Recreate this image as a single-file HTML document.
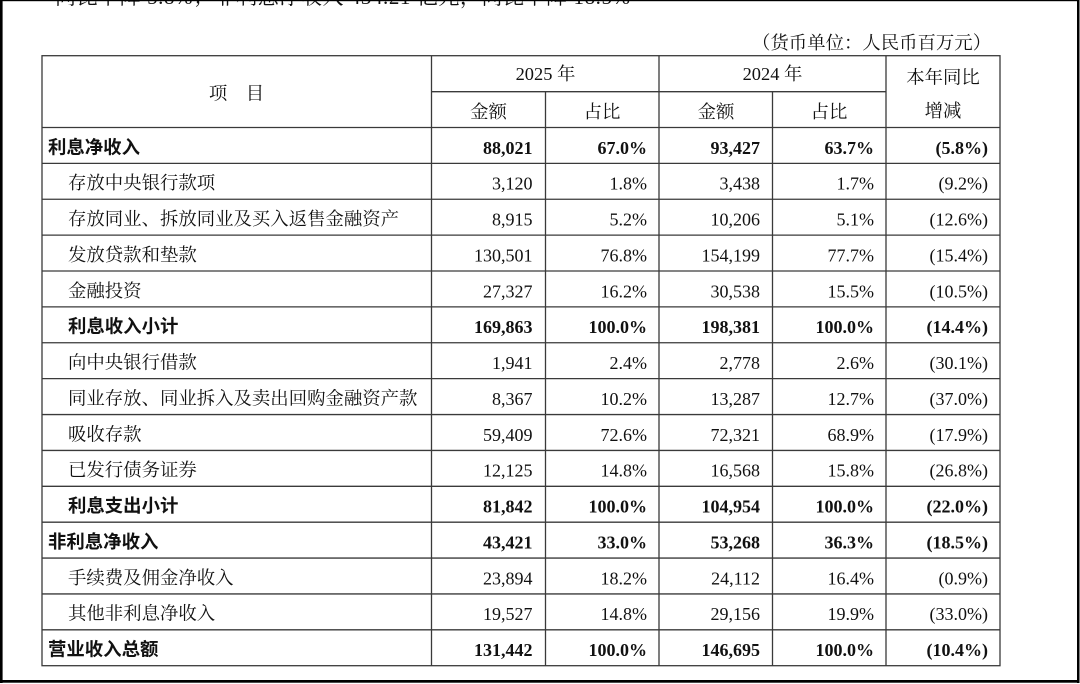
<!DOCTYPE html>
<html>
<head>
<meta charset="utf-8">
<style>
html,body{margin:0;padding:0;background:#fff;}
svg{display:block;}
.cn{font-family:"Liberation Serif","Noto Serif CJK SC",serif;font-size:18.4px;fill:#111;}
.cb{font-family:"Liberation Sans","Noto Sans CJK SC",sans-serif;font-size:18.4px;font-weight:700;fill:#111;}
.n{font-family:"Liberation Serif","Noto Serif CJK SC",serif;font-size:18px;fill:#111;text-anchor:end;}
.nb{font-family:"Liberation Serif","Noto Serif CJK SC",serif;font-size:18px;font-weight:700;fill:#111;text-anchor:end;}
.hc{font-family:"Liberation Serif","Noto Serif CJK SC",serif;font-size:18.4px;fill:#111;text-anchor:middle;}
</style>
</head>
<body>
<svg width="1080" height="684" viewBox="0 0 1080 684" xmlns="http://www.w3.org/2000/svg">
<rect x="0" y="0" width="1080" height="684" fill="#fff"/>
<!-- clipped top text -->
<text x="55" y="4" class="cn" style="font-size:21px" textLength="575" lengthAdjust="spacing">同比下降 5.8%；非利息净收入 434.21 亿元，同比下降 18.5%</text>
<!-- outer frame -->
<rect x="0" y="0" width="2.6" height="683" fill="#000"/>
<rect x="0" y="0" width="1079.5" height="1.2" fill="#000"/>
<rect x="1077" y="0" width="2.5" height="683" fill="#000"/>
<rect x="0" y="680" width="1079.5" height="2.7" fill="#000"/>

<!-- unit note -->
<text x="752" y="49" class="cn">（货币单位：人民币百万元）</text>

<!-- table lines -->
<g stroke="#3a3a3a" stroke-width="1.3" fill="none">
<rect x="42" y="55.7" width="958" height="610"/>
<line x1="431.5" y1="55.7" x2="431.5" y2="665.7"/>
<line x1="659" y1="55.7" x2="659" y2="665.7"/>
<line x1="886" y1="55.7" x2="886" y2="665.7"/>
<line x1="545.5" y1="91.7" x2="545.5" y2="665.7"/>
<line x1="772.5" y1="91.7" x2="772.5" y2="665.7"/>
<line x1="431.5" y1="91.7" x2="886" y2="91.7"/>
<line x1="42" y1="127.5" x2="1000" y2="127.5"/>
<line x1="42" y1="163.38" x2="1000" y2="163.38"/>
<line x1="42" y1="199.26" x2="1000" y2="199.26"/>
<line x1="42" y1="235.14" x2="1000" y2="235.14"/>
<line x1="42" y1="271.02" x2="1000" y2="271.02"/>
<line x1="42" y1="306.9" x2="1000" y2="306.9"/>
<line x1="42" y1="342.78" x2="1000" y2="342.78"/>
<line x1="42" y1="378.66" x2="1000" y2="378.66"/>
<line x1="42" y1="414.54" x2="1000" y2="414.54"/>
<line x1="42" y1="450.42" x2="1000" y2="450.42"/>
<line x1="42" y1="486.3" x2="1000" y2="486.3"/>
<line x1="42" y1="522.18" x2="1000" y2="522.18"/>
<line x1="42" y1="558.06" x2="1000" y2="558.06"/>
<line x1="42" y1="593.94" x2="1000" y2="593.94"/>
<line x1="42" y1="629.82" x2="1000" y2="629.82"/>
</g>

<!-- header -->
<text x="236.5" y="99.5" class="hc">项　目</text>
<text x="545.5" y="80" class="hc">2025 年</text>
<text x="772.5" y="80" class="hc">2024 年</text>
<text x="943" y="83.5" class="hc">本年同比</text>
<text x="943" y="117" class="hc">增减</text>
<text x="488.5" y="118" class="hc">金额</text>
<text x="602" y="118" class="hc">占比</text>
<text x="716" y="118" class="hc">金额</text>
<text x="829" y="118" class="hc">占比</text>

<g transform="translate(0,127.5)">
<text x="48" y="25.8" class="cb">利息净收入</text>
<text x="532.5" y="26.3" class="nb">88,021</text>
<text x="647" y="26.3" class="nb">67.0%</text>
<text x="760" y="26.3" class="nb">93,427</text>
<text x="874" y="26.3" class="nb">63.7%</text>
<text x="988" y="26.3" class="nb">(5.8%)</text>
</g>
<g transform="translate(0,163.38)">
<text x="68" y="25.8" class="cn">存放中央银行款项</text>
<text x="532.5" y="26.3" class="n">3,120</text>
<text x="647" y="26.3" class="n">1.8%</text>
<text x="760" y="26.3" class="n">3,438</text>
<text x="874" y="26.3" class="n">1.7%</text>
<text x="988" y="26.3" class="n">(9.2%)</text>
</g>
<g transform="translate(0,199.26)">
<text x="68" y="25.8" class="cn">存放同业、拆放同业及买入返售金融资产</text>
<text x="532.5" y="26.3" class="n">8,915</text>
<text x="647" y="26.3" class="n">5.2%</text>
<text x="760" y="26.3" class="n">10,206</text>
<text x="874" y="26.3" class="n">5.1%</text>
<text x="988" y="26.3" class="n">(12.6%)</text>
</g>
<g transform="translate(0,235.14)">
<text x="68" y="25.8" class="cn">发放贷款和垫款</text>
<text x="532.5" y="26.3" class="n">130,501</text>
<text x="647" y="26.3" class="n">76.8%</text>
<text x="760" y="26.3" class="n">154,199</text>
<text x="874" y="26.3" class="n">77.7%</text>
<text x="988" y="26.3" class="n">(15.4%)</text>
</g>
<g transform="translate(0,271.02)">
<text x="68" y="25.8" class="cn">金融投资</text>
<text x="532.5" y="26.3" class="n">27,327</text>
<text x="647" y="26.3" class="n">16.2%</text>
<text x="760" y="26.3" class="n">30,538</text>
<text x="874" y="26.3" class="n">15.5%</text>
<text x="988" y="26.3" class="n">(10.5%)</text>
</g>
<g transform="translate(0,306.9)">
<text x="68" y="25.8" class="cb">利息收入小计</text>
<text x="532.5" y="26.3" class="nb">169,863</text>
<text x="647" y="26.3" class="nb">100.0%</text>
<text x="760" y="26.3" class="nb">198,381</text>
<text x="874" y="26.3" class="nb">100.0%</text>
<text x="988" y="26.3" class="nb">(14.4%)</text>
</g>
<g transform="translate(0,342.78)">
<text x="68" y="25.8" class="cn">向中央银行借款</text>
<text x="532.5" y="26.3" class="n">1,941</text>
<text x="647" y="26.3" class="n">2.4%</text>
<text x="760" y="26.3" class="n">2,778</text>
<text x="874" y="26.3" class="n">2.6%</text>
<text x="988" y="26.3" class="n">(30.1%)</text>
</g>
<g transform="translate(0,378.66)">
<text x="68" y="25.8" class="cn">同业存放、同业拆入及卖出回购金融资产款</text>
<text x="532.5" y="26.3" class="n">8,367</text>
<text x="647" y="26.3" class="n">10.2%</text>
<text x="760" y="26.3" class="n">13,287</text>
<text x="874" y="26.3" class="n">12.7%</text>
<text x="988" y="26.3" class="n">(37.0%)</text>
</g>
<g transform="translate(0,414.54)">
<text x="68" y="25.8" class="cn">吸收存款</text>
<text x="532.5" y="26.3" class="n">59,409</text>
<text x="647" y="26.3" class="n">72.6%</text>
<text x="760" y="26.3" class="n">72,321</text>
<text x="874" y="26.3" class="n">68.9%</text>
<text x="988" y="26.3" class="n">(17.9%)</text>
</g>
<g transform="translate(0,450.42)">
<text x="68" y="25.8" class="cn">已发行债务证券</text>
<text x="532.5" y="26.3" class="n">12,125</text>
<text x="647" y="26.3" class="n">14.8%</text>
<text x="760" y="26.3" class="n">16,568</text>
<text x="874" y="26.3" class="n">15.8%</text>
<text x="988" y="26.3" class="n">(26.8%)</text>
</g>
<g transform="translate(0,486.3)">
<text x="68" y="25.8" class="cb">利息支出小计</text>
<text x="532.5" y="26.3" class="nb">81,842</text>
<text x="647" y="26.3" class="nb">100.0%</text>
<text x="760" y="26.3" class="nb">104,954</text>
<text x="874" y="26.3" class="nb">100.0%</text>
<text x="988" y="26.3" class="nb">(22.0%)</text>
</g>
<g transform="translate(0,522.18)">
<text x="48" y="25.8" class="cb">非利息净收入</text>
<text x="532.5" y="26.3" class="nb">43,421</text>
<text x="647" y="26.3" class="nb">33.0%</text>
<text x="760" y="26.3" class="nb">53,268</text>
<text x="874" y="26.3" class="nb">36.3%</text>
<text x="988" y="26.3" class="nb">(18.5%)</text>
</g>
<g transform="translate(0,558.06)">
<text x="68" y="25.8" class="cn">手续费及佣金净收入</text>
<text x="532.5" y="26.3" class="n">23,894</text>
<text x="647" y="26.3" class="n">18.2%</text>
<text x="760" y="26.3" class="n">24,112</text>
<text x="874" y="26.3" class="n">16.4%</text>
<text x="988" y="26.3" class="n">(0.9%)</text>
</g>
<g transform="translate(0,593.94)">
<text x="68" y="25.8" class="cn">其他非利息净收入</text>
<text x="532.5" y="26.3" class="n">19,527</text>
<text x="647" y="26.3" class="n">14.8%</text>
<text x="760" y="26.3" class="n">29,156</text>
<text x="874" y="26.3" class="n">19.9%</text>
<text x="988" y="26.3" class="n">(33.0%)</text>
</g>
<g transform="translate(0,629.82)">
<text x="48" y="25.8" class="cb">营业收入总额</text>
<text x="532.5" y="26.3" class="nb">131,442</text>
<text x="647" y="26.3" class="nb">100.0%</text>
<text x="760" y="26.3" class="nb">146,695</text>
<text x="874" y="26.3" class="nb">100.0%</text>
<text x="988" y="26.3" class="nb">(10.4%)</text>
</g>
</svg>
</body>
</html>
